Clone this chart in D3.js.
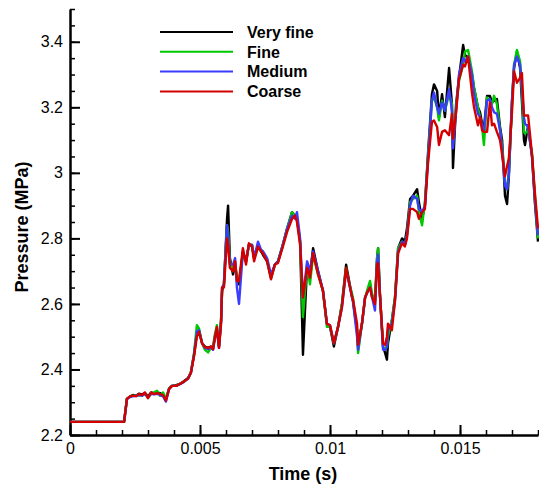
<!DOCTYPE html>
<html>
<head>
    <style>
        body { margin: 0; background: #fff; }
        text { font-family: "Liberation Sans", Arial, sans-serif; }
        .axis path, .axis line { stroke: #000; }
        .axis text { font-size: 16px; fill: #000; }
        .axis-title { font-size: 18px; font-weight: bold; text-anchor: middle; }
        .legend text { font-size: 16px; font-weight: bold; }
    </style>
    <script src="https://d3js.org/d3.v7.min.js"></script>
</head>
<body>
    <svg width="539" height="486"></svg>
    <script>

        // time (s)
        var time = [
            0, 0.00208, 0.00219, 0.00231, 0.00242, 0.00254, 0.00265, 0.00277, 0.00288, 0.00300,
            0.00312, 0.00323, 0.00335, 0.00346, 0.00358, 0.00369, 0.00381, 0.00392, 0.00408, 0.00423,
            0.00438, 0.00454, 0.00465, 0.00477, 0.00488, 0.00496, 0.00508, 0.00519, 0.00531, 0.00542,
            0.00550, 0.00558, 0.00565, 0.00573, 0.00581, 0.00585, 0.00592, 0.00604, 0.00608, 0.00615,
            0.00627, 0.00635, 0.00642, 0.00650, 0.00665, 0.00677, 0.00688, 0.00700, 0.00708, 0.00723,
            0.00735, 0.00742, 0.00758, 0.00773, 0.00788, 0.00800, 0.00815, 0.00835, 0.00854, 0.00865,
            0.00873, 0.00885, 0.00896, 0.00912, 0.00923, 0.00935, 0.00954, 0.00973, 0.00988, 0.01000,
            0.01015, 0.01031, 0.01046, 0.01062, 0.01069, 0.01085, 0.01088, 0.01104, 0.01108, 0.01123,
            0.01135, 0.01146, 0.01154, 0.01162, 0.01173, 0.01181, 0.01185, 0.01192, 0.01204, 0.01212,
            0.01219, 0.01223, 0.01238, 0.01250, 0.01262, 0.01277, 0.01288, 0.01296, 0.01308, 0.01319,
            0.01335, 0.01342, 0.01354, 0.01365, 0.01377, 0.01392, 0.01400, 0.01412, 0.01419, 0.01431,
            0.01442, 0.01458, 0.01469, 0.01473, 0.01485, 0.01496, 0.01512, 0.01519, 0.01531, 0.01546,
            0.01554, 0.01569, 0.01577, 0.01585, 0.01592, 0.01604, 0.01615, 0.01623, 0.01631, 0.01642,
            0.01654, 0.01662, 0.01673, 0.01681, 0.01688, 0.01700, 0.01708, 0.01719, 0.01731, 0.01738,
            0.01746, 0.01750, 0.01762, 0.01777, 0.01788, 0.01800
        ];

        // pressure (MPa) per mesh
        var veryFine = [
            2.24, 2.24, 2.31, 2.318, 2.322, 2.32, 2.326, 2.324, 2.328, 2.318,
            2.33, 2.326, 2.33, 2.328, 2.322, 2.31, 2.342, 2.35, 2.352, 2.356,
            2.364, 2.374, 2.39, 2.445, 2.51, 2.52, 2.48, 2.47, 2.466, 2.47,
            2.462, 2.505, 2.52, 2.47, 2.55, 2.64, 2.66, 2.86, 2.90, 2.74,
            2.69, 2.72, 2.68, 2.66, 2.76, 2.73, 2.78, 2.78, 2.74, 2.78,
            2.76, 2.75, 2.73, 2.68, 2.72, 2.73, 2.77, 2.83, 2.88, 2.87,
            2.86, 2.79, 2.445, 2.72, 2.69, 2.77, 2.70, 2.64, 2.54, 2.53,
            2.47, 2.53, 2.60, 2.72, 2.69, 2.62, 2.61, 2.52, 2.47, 2.54,
            2.62, 2.64, 2.66, 2.62, 2.61, 2.74, 2.77, 2.63, 2.47, 2.45,
            2.43, 2.48, 2.55, 2.62, 2.77, 2.80, 2.79, 2.83, 2.92, 2.93,
            2.95, 2.91, 2.86, 2.90, 3.06, 3.24, 3.27, 3.25, 3.17, 3.24,
            3.17, 3.32, 3.21, 3.015, 3.21, 3.29, 3.39, 3.36, 3.35, 3.30,
            3.26, 3.20, 3.185, 3.15, 3.135, 3.235, 3.235, 3.215, 3.22, 3.225,
            3.14, 3.10, 2.93, 2.905, 2.99, 3.22, 3.32, 3.37, 3.32, 3.22,
            3.10, 3.085, 3.145, 3.05, 2.91, 2.79
        ];
        var fine = [
            2.24, 2.24, 2.31, 2.318, 2.32, 2.32, 2.322, 2.32, 2.325, 2.315,
            2.325, 2.33, 2.335, 2.32, 2.33, 2.31, 2.342, 2.35, 2.35, 2.356,
            2.362, 2.372, 2.392, 2.45, 2.535, 2.525, 2.48, 2.46, 2.452, 2.465,
            2.47, 2.51, 2.535, 2.47, 2.55, 2.65, 2.66, 2.84, 2.82, 2.73,
            2.70, 2.73, 2.67, 2.67, 2.75, 2.73, 2.78, 2.78, 2.74, 2.77,
            2.765, 2.76, 2.735, 2.68, 2.72, 2.73, 2.77, 2.83, 2.88, 2.87,
            2.86, 2.79, 2.56, 2.72, 2.66, 2.75, 2.69, 2.64, 2.53, 2.53,
            2.48, 2.53, 2.60, 2.71, 2.68, 2.63, 2.62, 2.52, 2.45, 2.54,
            2.62, 2.65, 2.67, 2.63, 2.61, 2.74, 2.77, 2.63, 2.47, 2.46,
            2.47, 2.50, 2.55, 2.62, 2.77, 2.79, 2.78, 2.81, 2.91, 2.92,
            2.93, 2.88, 2.84, 2.91, 3.05, 3.22, 3.23, 3.20, 3.16, 3.22,
            3.19, 3.24, 3.21, 3.09, 3.20, 3.28, 3.33, 3.37, 3.375, 3.31,
            3.26, 3.20, 3.17, 3.14, 3.085, 3.23, 3.22, 3.21, 3.235, 3.21,
            3.13, 3.08, 2.97, 2.95, 3.00, 3.21, 3.33, 3.375, 3.34, 3.25,
            3.125, 3.12, 3.13, 3.06, 2.93, 2.80
        ];
        var medium = [
            2.24, 2.24, 2.31, 2.316, 2.318, 2.32, 2.322, 2.32, 2.326, 2.315,
            2.326, 2.324, 2.326, 2.322, 2.318, 2.302, 2.34, 2.35, 2.35, 2.355,
            2.362, 2.372, 2.39, 2.445, 2.515, 2.52, 2.48, 2.466, 2.462, 2.468,
            2.46, 2.50, 2.525, 2.465, 2.545, 2.65, 2.66, 2.84, 2.80, 2.72,
            2.72, 2.74, 2.65, 2.60, 2.76, 2.73, 2.78, 2.78, 2.74, 2.79,
            2.765, 2.76, 2.74, 2.69, 2.72, 2.73, 2.77, 2.83, 2.87, 2.86,
            2.88, 2.80, 2.62, 2.73, 2.70, 2.76, 2.70, 2.64, 2.54, 2.535,
            2.48, 2.53, 2.59, 2.70, 2.68, 2.62, 2.61, 2.50, 2.46, 2.54,
            2.62, 2.64, 2.65, 2.62, 2.58, 2.73, 2.75, 2.63, 2.46, 2.46,
            2.47, 2.52, 2.54, 2.61, 2.76, 2.79, 2.78, 2.81, 2.90, 2.93,
            2.92, 2.89, 2.88, 2.90, 3.04, 3.22, 3.245, 3.20, 3.18, 3.215,
            3.19, 3.255, 3.19, 3.075, 3.19, 3.30, 3.35, 3.34, 3.355, 3.30,
            3.24, 3.18, 3.17, 3.14, 3.13, 3.22, 3.225, 3.20, 3.185, 3.18,
            3.13, 3.07, 2.96, 2.95, 3.00, 3.22, 3.33, 3.355, 3.33, 3.26,
            3.17, 3.15, 3.14, 3.05, 2.92, 2.81
        ];
        var coarse = [
            2.24, 2.24, 2.31, 2.318, 2.32, 2.318, 2.325, 2.322, 2.33, 2.312,
            2.33, 2.325, 2.328, 2.325, 2.322, 2.305, 2.34, 2.35, 2.35, 2.356,
            2.363, 2.372, 2.39, 2.44, 2.50, 2.515, 2.48, 2.468, 2.465, 2.47,
            2.462, 2.50, 2.53, 2.466, 2.54, 2.65, 2.65, 2.80, 2.78, 2.71,
            2.70, 2.73, 2.67, 2.67, 2.77, 2.72, 2.785, 2.775, 2.73, 2.775,
            2.76, 2.755, 2.73, 2.675, 2.72, 2.725, 2.765, 2.82, 2.86, 2.87,
            2.85, 2.78, 2.62, 2.71, 2.68, 2.755, 2.69, 2.64, 2.54, 2.535,
            2.48, 2.53, 2.59, 2.71, 2.68, 2.62, 2.615, 2.54, 2.475, 2.54,
            2.62, 2.64, 2.65, 2.62, 2.60, 2.72, 2.725, 2.63, 2.48, 2.475,
            2.50, 2.54, 2.52, 2.61, 2.755, 2.785, 2.775, 2.80, 2.89, 2.89,
            2.88, 2.86, 2.88, 2.89, 3.03, 3.155, 3.16, 3.14, 3.085, 3.125,
            3.13, 3.115, 3.18, 3.105, 3.185, 3.285, 3.33, 3.325, 3.355, 3.245,
            3.20, 3.145, 3.17, 3.13, 3.125, 3.125, 3.215, 3.145, 3.15, 3.125,
            3.10, 3.055, 2.99, 3.02, 3.045, 3.185, 3.31, 3.275, 3.29, 3.305,
            3.175, 3.175, 3.175, 3.055, 2.94, 2.83
        ];

        var seriesNames = ["Very fine", "Fine", "Medium", "Coarse"];
        var seriesColors = ["#000000", "#00c800", "#3c3cff", "#d40000"];
        var seriesValues = [veryFine, fine, medium, coarse];

        var xMajorTicks = [0, 0.005, 0.01, 0.015];
        var xTickLabels = ["0", "0.005", "0.01", "0.015"];
        var yMajorTicks = [2.2, 2.4, 2.6, 2.8, 3.0, 3.2, 3.4];
        var yTickLabels = ["2.2", "2.4", "2.6", "2.8", "3", "3.2", "3.4"];

        seriesValues.forEach(function(s, i) {
            if (s.length !== time.length) throw new Error(seriesNames[i] + " length " + s.length + " vs " + time.length);
        });

        var svg = d3.select("svg"),
            margin = {left: 70, top: 9, right: 1, bottom: 51},
            width = +svg.attr("width") - margin.left - margin.right,
            height = +svg.attr("height") - margin.top - margin.bottom;

        var g = svg.append("g")
                   .attr("transform", "translate(" + margin.left + "," + margin.top + ")");

        var x = d3.scaleLinear().domain([0, 0.018]).range([0, width]);
        var y = d3.scaleLinear().domain([2.2, 3.5]).range([height, 0]);

        // minor ticks
        g.append("g")
         .attr("class", "axis")
         .attr("transform", "translate(0," + height + ")")
         .call(d3.axisBottom(x).tickValues(d3.range(0, 0.0185, 0.001)).tickSizeInner(-5).tickSizeOuter(0).tickFormat(""))
         .selectAll("line").attr("stroke-width", 1.5);
        g.append("g")
         .attr("class", "axis")
         .call(d3.axisLeft(y).tickValues(d3.range(2.2, 3.501, 0.05)).tickSizeInner(-5).tickSizeOuter(0).tickFormat(""))
         .selectAll("line").attr("stroke-width", 1.5);

        // major ticks
        var xAxis = g.append("g")
         .attr("class", "axis")
         .attr("transform", "translate(0," + height + ")")
         .call(d3.axisBottom(x).tickValues(xMajorTicks).tickSizeInner(-10).tickSizeOuter(0).tickPadding(8)
                 .tickFormat(function(d, i) { return xTickLabels[i]; }));
        xAxis.selectAll("line").attr("stroke-width", 2);
        xAxis.select("path").attr("stroke-width", 2.5);

        var yAxis = g.append("g")
         .attr("class", "axis")
         .call(d3.axisLeft(y).tickValues(yMajorTicks).tickSizeInner(-10).tickSizeOuter(0).tickPadding(7)
                 .tickFormat(function(d, i) { return yTickLabels[i]; }));
        yAxis.selectAll("line").attr("stroke-width", 2);
        yAxis.select("path").attr("stroke-width", 2.5);

        var line = d3.line()
                     .x(function(d, i) { return x(time[i]); })
                     .y(function(d) { return y(d); });

        g.selectAll(".series")
         .data(seriesValues)
         .enter().append("path")
         .attr("class", "series")
         .attr("fill", "none")
         .attr("stroke", function(d, i) { return seriesColors[i]; })
         .attr("stroke-width", 2.4)
         .attr("stroke-linejoin", "round")
         .attr("d", line);

        // axis titles
        svg.append("text")
           .attr("class", "axis-title")
           .attr("x", margin.left + width / 2 - 1)
           .attr("y", 480)
           .text("Time (s)");

        svg.append("text")
           .attr("class", "axis-title")
           .attr("transform", "translate(28," + (margin.top + height / 2 + 5) + ") rotate(-90)")
           .text("Pressure (MPa)");

        // legend
        var legend = svg.append("g").attr("class", "legend");
        seriesNames.forEach(function(name, i) {
            var ly = 32 + i * 19.8;
            legend.append("line")
                  .attr("x1", 160).attr("x2", 233)
                  .attr("y1", ly).attr("y2", ly)
                  .attr("stroke", seriesColors[i])
                  .attr("stroke-width", 2);
            legend.append("text")
                  .attr("x", 247).attr("y", ly)
                  .attr("dy", "0.36em")
                  .text(name);
        });
    </script>
</body>
</html>
